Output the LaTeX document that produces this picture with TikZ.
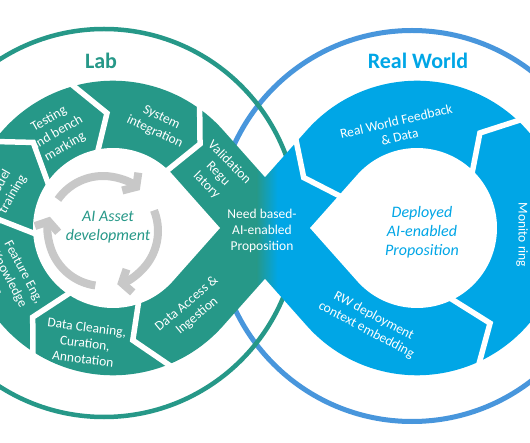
\documentclass[tikz,border=0pt]{standalone}
\usepackage{fontspec}
\setmainfont{Carlito}
\usetikzlibrary{arrows.meta}
\definecolor{labteal}{RGB}{38,152,136}
\definecolor{worldblue}{RGB}{0,166,230}
\definecolor{ringblue}{RGB}{72,150,220}
\definecolor{arrowgray}{RGB}{200,200,200}
\def\rin{80}
\def\rout{147.3}
\def\tang{41.6}

\begin{document}
\begin{tikzpicture}[x=1pt,y=1pt,
  seg label/.style={text=white,align=center,font=\fontsize{13.5}{16}\selectfont},
  loop title/.style={font=\fontsize{22}{26}\selectfont\bfseries},
  hub label/.style={align=center,font=\fontsize{16}{19}\selectfont\itshape},
  gap/.style={white,line width=5.5pt,line join=miter},
  cycle arrow/.style={arrowgray,line width=8pt,-{Straight Barb[length=8pt,width=24pt]}}]

\fill[white] (0,0) rectangle (530,442);
\useasboundingbox (0,0) rectangle (530,442);

\coordinate (L) at (113,214);
\coordinate (R) at (417,214);
\coordinate (G) at (103,211);

% outer rings, teal one on top
\draw[ringblue,line width=5pt] (412,216) circle[radius=195.5];
\draw[labteal,line width=4.5pt] (104,219) circle[radius=194];

% the band, teal into blue
\begin{scope}
  \clip (265,163.3) -- ([shift={(L)}]-\tang:\rout)
    arc[start angle=-\tang,end angle=\tang-360,radius=\rout] -- (265,264.7)
    -- ([shift={(R)}]{180-\tang}:\rout)
    arc[start angle=180-\tang,end angle=\tang-180,radius=\rout] -- cycle;
  \fill[labteal] (0,0) rectangle (257,442);
  \fill[worldblue] (277,0) rectangle (530,442);
  \shade[left color=labteal,right color=worldblue] (256.5,0) rectangle (277.5,442);
\end{scope}

% holes
\fill[white] (220,214) -- ([shift={(L)}]\tang:\rin)
  arc[start angle=\tang,end angle=360-\tang,radius=\rin] -- cycle;
\fill[white] (310,214) -- ([shift={(R)}]{\tang-180}:\rin)
  arc[start angle=\tang-180,end angle=180-\tang,radius=\rin] -- cycle;

% chevron cuts: outer angle / tip angle / tip radius / inner angle
\foreach \o/\t/\tr/\i in {55/44/121/47, 106.5/93/115/102, 145/133/117/147,
    185/176/113/185, 238/228/120/237, 293/280/114/290}
  \draw[gap] ([shift={(L)}]\o:151) -- ([shift={(L)}]\t:\tr) -- ([shift={(L)}]\i:76);
\foreach \o/\t/\tr/\i in {294/307.5/120/294.5, 46/56.5/114/44, 143.5/156/124/158}
  \draw[gap] ([shift={(R)}]\o:151) -- ([shift={(R)}]\t:\tr) -- ([shift={(R)}]\i:76);

% gray cycle
\draw[cycle arrow] ([shift={(G)}]145:55) arc[start angle=145,end angle=48,radius=55];
\draw[cycle arrow] ([shift={(G)}]22:55) arc[start angle=22,end angle=-75,radius=55];
\draw[cycle arrow] ([shift={(G)}]-98:55) arc[start angle=-98,end angle=-195,radius=55];

\node[loop title,labteal] (lab) at (101,381) {Lab};
\node[loop title,worldblue] (realworld) at (418,381) {Real World};

\node[seg label,rotate=30] (testing) at (57,309) {Testing\\and bench\\marking};
\node[seg label,rotate=-25] (sysint) at (158,317) {System\\integration};
\node[seg label,rotate=-45] (valid) at (218,268) {Validation\\Regu\\latory};
\node[seg label,rotate=60] (training) at (6,252) {Model\\training};
\node[seg label,rotate=-62] (feature) at (9,162) {Feature Eng,\\Knowledge\\Eng.};
\node[seg label,rotate=-7] (cleaning) at (85,99) {Data Cleaning,\\Curation,\\Annotation};
\node[seg label,rotate=40] (access) at (192,132) {Data Access \&\\Ingestion};
\node[seg label] (need) at (262,211) {Need based-\\AI-enabled\\Proposition};

\node[hub label,labteal] (asset) at (108,215) {AI Asset\\development};
\node[hub label,worldblue] (deployed) at (422,210) {Deployed\\AI-enabled\\Proposition};

\node[seg label,rotate=13] (feedback) at (398,313) {Real World Feedback\\\& Data};
\node[seg label,rotate=-90] (monitoring) at (522,207) {Monito ring};
\node[seg label,rotate=-28] (rwdeploy) at (370,119) {RW deployment\\context embedding};

\end{tikzpicture}
\end{document}
